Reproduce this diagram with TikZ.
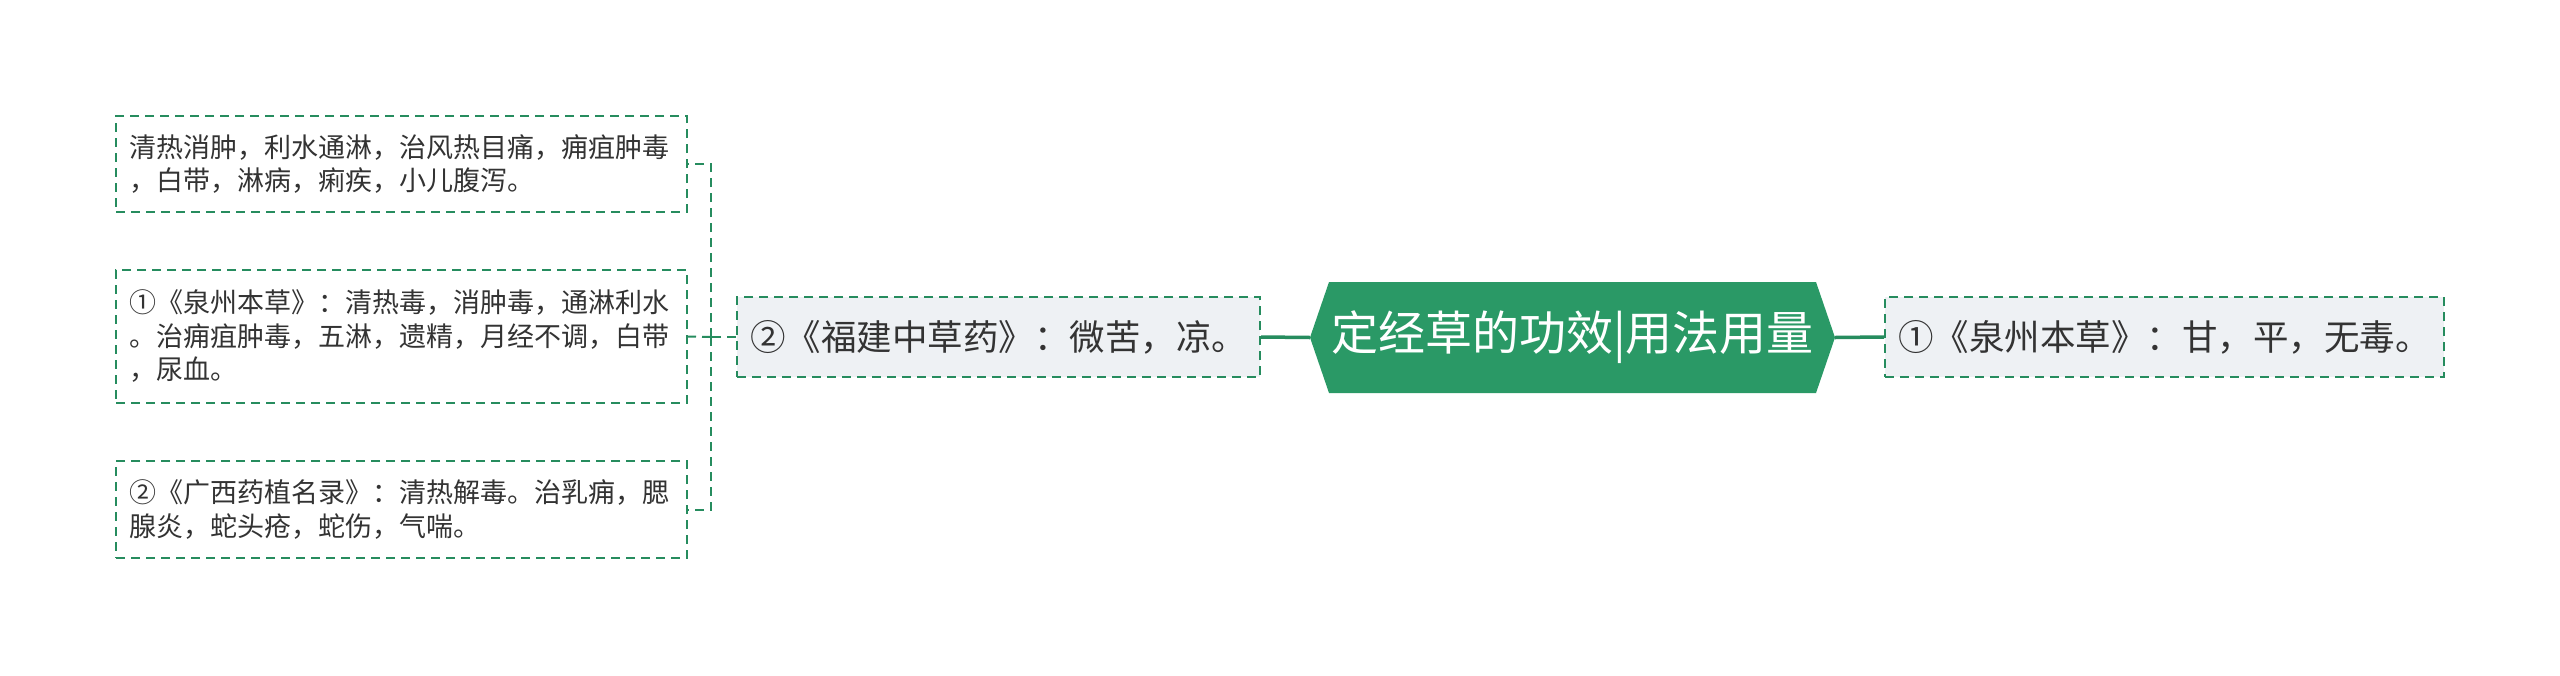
\documentclass[tikz,border=0pt]{standalone}
\usepackage{fontspec}
\setmainfont{Noto Sans CJK SC}
\definecolor{hexgreen}{HTML}{2A9966}
\definecolor{linegreen}{HTML}{268C5E}
\definecolor{boxfill}{HTML}{EEF1F4}
\definecolor{txt}{HTML}{333333}
\tikzset{
  leafbox/.style={draw=linegreen, line width=2pt, dash pattern=on 9pt off 6pt, fill=white,
    text=txt, align=left, text width=545pt, inner xsep=13pt, inner ysep=0pt,
    font=\fontsize{27}{33.5}\selectfont, anchor=center},
  midbox/.style={draw=linegreen, line width=2pt, dash pattern=on 9pt off 6pt, fill=boxfill,
    text=txt, inner sep=0pt, font=\fontsize{35.5}{43}\selectfont},
  mainline/.style={draw=linegreen, line width=3.5pt},
  brk/.style={draw=linegreen, line width=2pt, dash pattern=on 9pt off 6pt},
}
\begin{document}
\begin{tikzpicture}[x=1pt,y=-1pt]
\useasboundingbox (0,0) rectangle (2560,675);
\fill[white] (0,0) rectangle (2560,675);
% center hexagon
\fill[hexgreen] (1310,337.5) -- (1329,282) -- (1816,282) -- (1835,337.5) -- (1816,393) -- (1329,393) -- cycle;
\node[text=white, inner sep=0pt, minimum width=525pt, minimum height=111pt, font=\fontsize{47}{56}\selectfont] (c) at (1572.5,337.5) {定经草的功效|用法用量};
% second level
\node[midbox, minimum width=523pt, minimum height=80pt] (f) at (998.5,337) {②《福建中草药》：微苦，凉。};
\node[midbox, minimum width=559pt, minimum height=80pt] (r) at (2164.5,337) {①《泉州本草》：甘，平，无毒。};
% leaves
\node[leafbox, minimum height=96pt] (b1) at (401.5,164) {清热消肿，利水通淋，治风热目痛，痈疽肿毒\\，白带，淋病，痢疾，小儿腹泻。};
\node[leafbox, minimum height=133pt] (b2) at (401.5,336.5) {①《泉州本草》：清热毒，消肿毒，通淋利水\\。治痈疽肿毒，五淋，遗精，月经不调，白带\\，尿血。};
\node[leafbox, minimum height=97pt] (b3) at (401.5,509.5) {②《广西药植名录》：清热解毒。治乳痈，腮\\腺炎，蛇头疮，蛇伤，气喘。};
% connectors
\draw[mainline] (c.west) -- (f.east);
\draw[mainline] (c.east) -- (r.west);
\coordinate (j) at (711,337);
\draw[brk] (f.west) -- (j);
\draw[brk] (j) |- (b1.east);
\draw[brk] (j) -- (b2.east);
\draw[brk] (j) |- (b3.east);
\end{tikzpicture}
\end{document}
